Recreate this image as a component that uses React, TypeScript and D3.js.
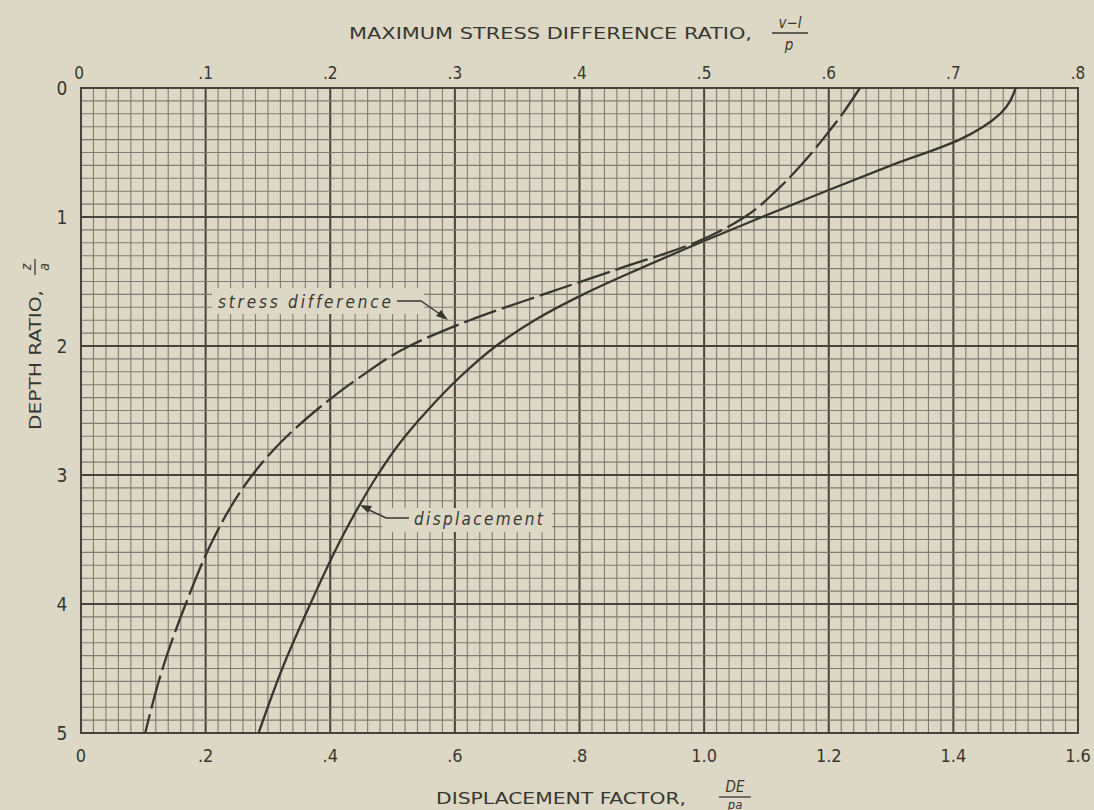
import React from "react";
import * as d3 from "d3";

// ---- data ----
const dispDepth = [0, 0.2, 0.4, 0.6, 0.8, 1.0, 1.2, 1.4, 1.6, 1.8, 2.0, 2.25, 2.5, 2.75, 3.0, 3.25, 3.5, 4.0, 4.5, 5.0];
const dispFactor = [1.5, 1.475, 1.41, 1.3, 1.195, 1.093, 0.993, 0.897, 0.806, 0.728, 0.666, 0.606, 0.556, 0.512, 0.476, 0.445, 0.417, 0.368, 0.323, 0.285];

const stressDepth = [0, 0.2, 0.4, 0.6, 0.8, 1.0, 1.2, 1.4, 1.6, 1.8, 2.0, 2.25, 2.5, 2.75, 3.0, 3.25, 3.5, 4.0, 4.5, 5.0];
const stressRatio = [0.625, 0.611, 0.595, 0.5775, 0.5575, 0.5325, 0.4925, 0.432, 0.371, 0.312, 0.2635, 0.2225, 0.1885, 0.16, 0.1375, 0.12, 0.106, 0.084, 0.0655, 0.0515];

const bottomTicks = [0, 0.2, 0.4, 0.6, 0.8, 1.0, 1.2, 1.4, 1.6];
const bottomTickLabels = ["0", ".2", ".4", ".6", ".8", "1.0", "1.2", "1.4", "1.6"];
const topTicks = [0, 0.1, 0.2, 0.3, 0.4, 0.5, 0.6, 0.7, 0.8];
const topTickLabels = ["0", ".1", ".2", ".3", ".4", ".5", ".6", ".7", ".8"];
const depthTicks = [0, 1, 2, 3, 4, 5];
const depthTickLabels = ["0", "1", "2", "3", "4", "5"];

const W = 1094, H = 810;
const L = 81, R = 1078, T = 88, B = 733;
const BG = "#dcd8c5";
const INK = "#38372f";
const GRID = "#7f7c72";
const MAJOR = "#46443d";
const FONT = "'DejaVu Sans Condensed', 'DejaVu Sans', sans-serif";

export default function App() {
  const x = d3.scaleLinear().domain([0, 1.6]).range([L, R]);
  const xTop = d3.scaleLinear().domain([0, 0.8]).range([L, R]);
  const y = d3.scaleLinear().domain([0, 5]).range([T, B]);

  const minorX = d3.range(0, 81).map((i) => i * 0.02);
  const minorY = d3.range(0, 51).map((i) => i * 0.1);

  const dispPts: [number, number][] = dispDepth.map((z, i) => [x(dispFactor[i]), y(z)]);
  const stressPts: [number, number][] = stressDepth.map((z, i) => [xTop(stressRatio[i]), y(z)]);
  const line = d3.line().curve(d3.curveMonotoneY);

  return (
    <svg width={W} height={H} style={{ display: "block", position: "absolute", left: 0, top: 0, background: BG }}>
      <rect x={0} y={0} width={W} height={H} fill={BG} />
      {/* grid */}
      <g>
        {minorX.map((v, i) => (
          <line key={"vx" + i} x1={x(v)} x2={x(v)} y1={T} y2={B}
            stroke={i % 10 === 0 ? MAJOR : GRID} strokeWidth={i % 10 === 0 ? 2 : 1.1} />
        ))}
        {minorY.map((v, i) => (
          <line key={"hy" + i} x1={L} x2={R} y1={y(v)} y2={y(v)}
            stroke={i % 10 === 0 ? MAJOR : GRID} strokeWidth={i % 10 === 0 ? 2 : 1.1} />
        ))}
        <rect x={L} y={T} width={R - L} height={B - T} fill="none" stroke={MAJOR} strokeWidth={2} />
      </g>

      {/* label boxes to mask grid */}
      <rect x={212} y={288} width={212} height={26} fill={BG} />
      <rect x={382} y={508} width={170} height={24} fill={BG} />

      {/* curves */}
      <path d={line(dispPts) || ""} fill="none" stroke={INK} strokeWidth={2.3} />
      <path d={line(stressPts) || ""} fill="none" stroke={INK} strokeWidth={2.3} strokeDasharray="34,6" />

      {/* annotations */}
      <text x={218} y={308} fontFamily={FONT} fontStyle="italic" fontSize={17} fill={INK} letterSpacing={1.2}
        textLength={174} lengthAdjust="spacing">stress difference</text>
      <path d={`M397,301 L421,301 L444,317`} fill="none" stroke={INK} strokeWidth={1.4} />
      <path d={`M448,320 L436,316 L441,310 Z`} fill={INK} />
      <text x={414} y={525} fontFamily={FONT} fontStyle="italic" fontSize={17} fill={INK} letterSpacing={1.2}
        textLength={130} lengthAdjust="spacing">displacement</text>
      <path d={`M409,518 L386,518 L365,508`} fill="none" stroke={INK} strokeWidth={1.4} />
      <path d={`M360,505 L372,506 L368,513 Z`} fill={INK} />

      {/* tick labels */}
      {bottomTicks.map((v, i) => (
        <text key={"bt" + i} x={x(v)} y={762} textAnchor="middle" fontFamily={FONT} fontSize={18} fill={INK}>
          {bottomTickLabels[i]}
        </text>
      ))}
      {topTicks.map((v, i) => (
        <text key={"tt" + i} x={xTop(v) - (i === 0 ? 2 : 0)} y={79} textAnchor="middle" fontFamily={FONT} fontSize={17} fill={INK}>
          {topTickLabels[i]}
        </text>
      ))}
      {depthTicks.map((v, i) => (
        <text key={"yt" + i} x={62} y={y(v) + 7} textAnchor="middle" fontFamily={FONT} fontSize={19} fill={INK}>
          {depthTickLabels[i]}
        </text>
      ))}

      {/* top title */}
      <text x={349} y={39} fontFamily={FONT} fontSize={16} fill={INK} textLength={403} lengthAdjust="spacingAndGlyphs">
        MAXIMUM STRESS DIFFERENCE RATIO,
      </text>
      <text x={790} y={28} textAnchor="middle" fontFamily={FONT} fontStyle="italic" fontSize={15} fill={INK}>v−l</text>
      <line x1={772} x2={808} y1={33} y2={33} stroke={INK} strokeWidth={1.3} />
      <text x={789} y={50} textAnchor="middle" fontFamily={FONT} fontStyle="italic" fontSize={15} fill={INK}>p</text>

      {/* bottom title */}
      <text x={436} y={804} fontFamily={FONT} fontSize={16} fill={INK} textLength={250} lengthAdjust="spacingAndGlyphs">
        DISPLACEMENT FACTOR,
      </text>
      <text x={735} y={792} textAnchor="middle" fontFamily={FONT} fontStyle="italic" fontSize={15} fill={INK}>DE</text>
      <line x1={719} x2={751} y1={797} y2={797} stroke={INK} strokeWidth={1.3} />
      <text x={735} y={809} textAnchor="middle" fontFamily={FONT} fontStyle="italic" fontSize={13} fill={INK}>pa</text>

      {/* left title */}
      <g transform="translate(41,430) rotate(-90)">
        <text x={0} y={0} fontFamily={FONT} fontSize={16} fill={INK} textLength={140} lengthAdjust="spacingAndGlyphs">
          DEPTH RATIO,
        </text>
        <text x={163} y={-10} textAnchor="middle" fontFamily={FONT} fontStyle="italic" fontSize={14} fill={INK}>z</text>
        <line x1={155} x2={171} y1={-6} y2={-6} stroke={INK} strokeWidth={1.3} />
        <text x={163} y={8} textAnchor="middle" fontFamily={FONT} fontStyle="italic" fontSize={14} fill={INK}>a</text>
      </g>
    </svg>
  );
}
